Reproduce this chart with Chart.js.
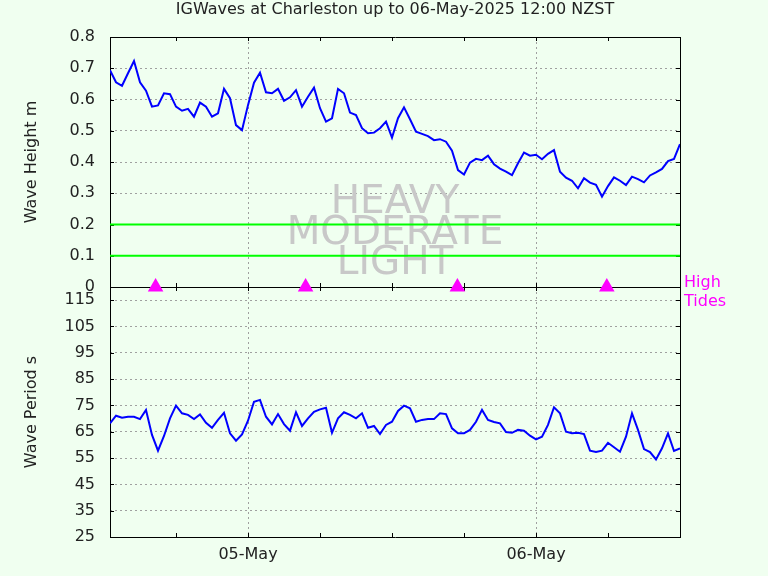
<!DOCTYPE html>
<html lang="en">
<head>
<meta charset="UTF-8">
<title>IGWaves at Charleston</title>
<script src="https://cdn.jsdelivr.net/npm/chart.js"></script>
<style>
  html, body { margin: 0; padding: 0; background: #f0fff0; }
  canvas { display: block; }
</style>
</head>
<body>
<canvas id="chart" width="768" height="576"></canvas>
<script>
  // time axis: hours from 05-May 00:00, one sample every 30 min
  const startHour = -11.5;
  const stepHours = 0.5;
  const xMax = 36;

  const waveHeight = [
    0.694, 0.655, 0.644, 0.684, 0.723, 0.655, 0.628, 0.577, 0.581, 0.620,
    0.617, 0.577, 0.564, 0.570, 0.545, 0.590, 0.577, 0.545, 0.556, 0.634,
    0.604, 0.518, 0.502, 0.582, 0.654, 0.686, 0.623, 0.620, 0.634, 0.596,
    0.607, 0.630, 0.577, 0.609, 0.638, 0.572, 0.529, 0.540, 0.634, 0.620,
    0.558, 0.550, 0.508, 0.492, 0.494, 0.508, 0.529, 0.478, 0.540, 0.575,
    0.537, 0.497, 0.490, 0.483, 0.470, 0.473, 0.465, 0.436, 0.374, 0.360,
    0.398, 0.410, 0.406, 0.420, 0.393, 0.379, 0.369, 0.358, 0.396, 0.430,
    0.420, 0.423, 0.409, 0.426, 0.438, 0.369, 0.350, 0.340, 0.316, 0.348,
    0.334, 0.327, 0.289, 0.323, 0.351, 0.340, 0.326, 0.353, 0.345, 0.335,
    0.357, 0.367, 0.378, 0.403, 0.410, 0.457
  ];

  const wavePeriod = [
    68.2, 71.1, 70.3, 70.7, 70.7, 69.8, 73.3, 63.8, 57.8, 63.4,
    70.1, 74.9, 72.0, 71.4, 69.8, 71.6, 68.4, 66.5, 69.5, 72.2,
    64.4, 61.6, 64.0, 69.2, 76.4, 77.1, 70.7, 67.8, 71.7, 67.9,
    65.4, 72.4, 67.2, 70.1, 72.6, 73.5, 74.1, 64.6, 70.1, 72.4,
    71.4, 70.1, 72.0, 66.5, 67.2, 64.1, 67.6, 68.8, 72.9, 74.9,
    73.9, 68.8, 69.5, 69.8, 69.8, 72.0, 71.7, 66.3, 64.4, 64.4,
    65.7, 68.8, 73.3, 69.5, 68.7, 68.2, 64.9, 64.6, 65.7, 65.4,
    63.5, 62.1, 63.1, 67.6, 74.3, 72.0, 65.0, 64.4, 64.6, 64.1,
    57.8, 57.3, 57.8, 60.8, 59.1, 57.4, 63.1, 72.0, 65.7, 58.4,
    57.3, 54.5, 58.7, 64.4, 57.7, 58.7
  ];

  const tideHours = [-7.7, 4.8, 17.45, 29.9];
  const bandLines = [0.2, 0.1];
  const bandNames = ['HEAVY', 'MODERATE', 'LIGHT'];
  const bandLevels = [0.283, 0.183, 0.086];
  const dayLabels = ['05-May', '06-May'];
  const dayHours = [0, 24];
  const xTicks = [-6, 0, 6, 12, 18, 24, 30];
  const heightTicks = [0, 0.1, 0.2, 0.3, 0.4, 0.5, 0.6, 0.7, 0.8];
  const periodTicks = [25, 35, 45, 55, 65, 75, 85, 95, 105, 115];

  const FONT = 'DejaVu Sans';
  Chart.defaults.font.family = FONT;
  Chart.defaults.font.size = 16;
  Chart.defaults.color = '#222';

  const toPoints = vals => vals.map((v, i) => ({ x: startHour + i * stepHours, y: v }));
  const NONE = 'rgba(0,0,0,0)';

  // frame, inward tick marks, zone words and tide label (gnuplot style)
  const decor = {
    id: 'decor',
    beforeDatasetsDraw(chart) {
      const { ctx, chartArea: a, scales } = chart;
      const yH = scales.yH, yP = scales.yP, x = scales.x;
      const px = v => Math.round(v) + 0.5;
      ctx.save();

      ctx.font = '39px "' + FONT + '"';
      ctx.fillStyle = '#c8c8c8';
      ctx.textAlign = 'center';
      ctx.textBaseline = 'alphabetic';
      const cx = (a.left + a.right) / 2;
      bandNames.forEach((name, i) => {
        ctx.fillText(name, cx, yH.getPixelForValue(bandLevels[i]) + 14);
      });

      ctx.strokeStyle = '#000';
      ctx.lineWidth = 1;
      ctx.beginPath();
      const mid = yH.bottom;
      [a.top, mid, a.bottom].forEach(y => {
        ctx.moveTo(a.left, px(y)); ctx.lineTo(a.right + 1, px(y));
      });
      ctx.moveTo(px(a.left), a.top); ctx.lineTo(px(a.left), a.bottom + 1);
      ctx.moveTo(px(a.right), a.top); ctx.lineTo(px(a.right), a.bottom + 1);

      const t = 4;
      [[yH, heightTicks], [yP, periodTicks]].forEach(([s, list]) => {
        list.forEach(v => {
          const y = px(s.getPixelForValue(v));
          ctx.moveTo(a.left, y); ctx.lineTo(a.left + t, y);
          ctx.moveTo(a.right, y); ctx.lineTo(a.right - t, y);
        });
      });
      xTicks.forEach(v => {
        const xx = px(x.getPixelForValue(v));
        ctx.moveTo(xx, a.top); ctx.lineTo(xx, a.top + t);
        ctx.moveTo(xx, mid - t); ctx.lineTo(xx, mid + t);
        ctx.moveTo(xx, a.bottom); ctx.lineTo(xx, a.bottom - t);
      });
      ctx.stroke();

      ctx.font = '16px "' + FONT + '"';
      ctx.fillStyle = '#ff00ff';
      ctx.textAlign = 'left';
      ctx.fillText('High', a.right + 4, mid - 0.5);
      ctx.fillText('Tides', a.right + 4, mid + 18.5);
      ctx.restore();
    }
  };

  new Chart(document.getElementById('chart'), {
    type: 'line',
    data: {
      datasets: [
        {
          data: tideHours.map(h => ({ x: h, y: 0 })),
          yAxisID: 'yH', showLine: false, clip: false,
          pointStyle: 'triangle', pointRadius: 9,
          pointBackgroundColor: '#ff00ff', pointBorderWidth: 0
        },
        {
          data: toPoints(waveHeight), yAxisID: 'yH',
          borderColor: '#0000ff', borderWidth: 2, pointRadius: 0, tension: 0
        },
        {
          data: toPoints(wavePeriod), yAxisID: 'yP',
          borderColor: '#0000ff', borderWidth: 2, pointRadius: 0, tension: 0
        },
        ...bandLines.map(v => ({
          data: [{ x: startHour, y: v }, { x: xMax, y: v }], yAxisID: 'yH',
          borderColor: '#00ff00', borderWidth: 2, pointRadius: 0
        }))
      ]
    },
    options: {
      responsive: false,
      animation: false,
      devicePixelRatio: 1,
      events: [],
      layout: { padding: { left: 0, right: 88, top: 0, bottom: 0 } },
      plugins: {
        legend: { display: false },
        tooltip: { enabled: false },
        title: {
          display: true, fullSize: false,
          text: 'IGWaves at Charleston up to 06-May-2025 12:00 NZST',
          color: '#222', font: { size: 16, weight: 'normal' },
          padding: { top: 0, bottom: 17.8 }
        }
      },
      scales: {
        x: {
          type: 'linear', min: startHour, max: xMax,
          afterBuildTicks: s => { s.ticks = xTicks.map(v => ({ value: v })); },
          afterFit: s => { s.height = 39; },
          ticks: {
            autoSkip: false, maxRotation: 0, padding: 8,
            callback: v => { const i = dayHours.indexOf(v); return i >= 0 ? dayLabels[i] : ''; }
          },
          grid: { color: c => (c.tick && dayHours.includes(c.tick.value)) ? '#a0a0a0' : NONE, drawTicks: false },
          border: { display: false, dash: [2, 3] }
        },
        yP: {
          type: 'linear', position: 'left', stack: 'panels', stackWeight: 1, min: 25, max: 120,
          afterBuildTicks: s => { s.ticks = periodTicks.map(v => ({ value: v })); },
          afterFit: s => { s.width = 110; },
          ticks: { autoSkip: false, padding: 15, callback: v => String(v) },
          grid: { color: c => (c.tick && c.tick.value > 25) ? '#a0a0a0' : NONE, drawTicks: false },
          border: { display: false, dash: [2, 3] },
          title: { display: true, text: 'Wave Period s', color: '#222', padding: { top: 22, bottom: 0 } }
        },
        yH: {
          type: 'linear', position: 'left', stack: 'panels', stackWeight: 1, min: 0, max: 0.8,
          afterBuildTicks: s => { s.ticks = heightTicks.map(v => ({ value: v })); },
          afterFit: s => { s.width = 110; },
          ticks: { autoSkip: false, padding: 15, callback: v => String(v) },
          grid: { color: c => (c.tick && c.tick.value > 0 && c.tick.value < 0.8) ? '#a0a0a0' : NONE, drawTicks: false },
          border: { display: false, dash: [2, 3] },
          title: { display: true, text: 'Wave Height m', color: '#222', padding: { top: 22, bottom: 0 } }
        }
      }
    },
    plugins: [decor]
  });
</script>
</body>
</html>
